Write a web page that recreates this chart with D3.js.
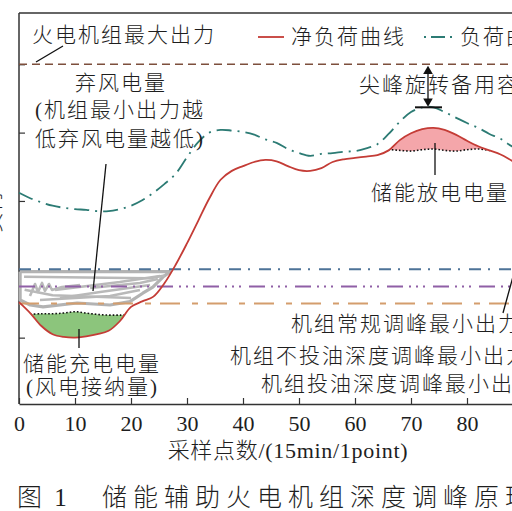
<!DOCTYPE html>
<html>
<head>
<meta charset="utf-8">
<script src="https://cdn.jsdelivr.net/npm/d3@7"></script>
<style>
body { margin: 0; background: #fff; overflow: hidden; }
svg { display: block; }
text { fill: #1e1e1e; font-family: "Liberation Serif", "Noto Sans CJK SC", serif; }
</style>
</head>
<body>
<svg></svg>
<script>
// sampling points (15 min each) and the two curves
var steps = [0,2,4,6,8,10,12,14,16,18,20,22,24,26,28,30,32,34,36,38,40,42,44,46,
             48,50,52,54,56,58,60,62,64,66,68,70,72,74,76,78,80,82,84,86,88,90,92,94];
var netLoad = [1.52,1.36,1.17,1.05,1.01,1.00,1.02,1.05,1.10,1.24,1.45,1.53,1.60,1.80,2.07,2.38,
               2.71,3.04,3.31,3.44,3.51,3.57,3.60,3.58,3.51,3.45,3.44,3.48,3.57,3.61,3.63,3.65,
               3.67,3.74,3.89,3.99,4.05,4.07,4.04,3.97,3.88,3.80,3.74,3.68,3.59,3.50,3.42,3.36];
var load = [3.12,3.04,2.98,2.93,2.90,2.88,2.87,2.85,2.85,2.88,2.93,3.01,3.12,3.25,3.40,3.64,
            3.86,4.00,4.04,4.03,4.01,3.97,3.90,3.85,3.76,3.70,3.66,3.69,3.70,3.72,3.73,3.77,
            3.83,3.98,4.16,4.30,4.37,4.37,4.30,4.22,4.14,4.07,3.98,3.91,3.80,3.72,3.65,3.60];

var xTicks = [0,10,20,30,40,50,60,70,80,90];
var yTicks = [1,2,3,4,5];

// unit output levels
var maxOutput = 5.0;
var normalMin = 2.0;
var noOilMin = 1.75;
var oilMin = 1.5;

// storage charge / discharge levels (dotted lines)
var chargeSteps = [2,4,6,8,10,12,14,16,18,20];
var chargeLevel = [1.34,1.35,1.35,1.36,1.38,1.36,1.34,1.33,1.33,1.33];
var dischargeSteps = [64,66,68,70,72,74,76,78,80,82,84,86];
var dischargeLevel = [3.74,3.75,3.74,3.73,3.75,3.76,3.74,3.73,3.75,3.76,3.74,3.73];

// curtailed wind scribble
var curtailOutline = [[0.2,1.965],[27,1.965],[25.7,1.887],[23.9,1.74],[22.1,1.65],[19.8,1.526],
                      [16.25,1.478],[10.4,1.507],[4.3,1.45],[2,1.478],[0.2,1.55],[0.2,1.965]];
var curtailScribbles = [
  [[0.9,1.89],[12,1.88],[23.4,1.87],[26,1.91]],
  [[1.96,1.61],[2.86,1.785],[3.39,1.668],[4.11,1.8],[4.64,1.683],[5.36,1.785],[5.89,1.697],[7.68,1.741],[10.9,1.77]],
  [[6.43,1.697],[18,1.814],[25.2,1.902]],
  [[7.32,1.58],[14.5,1.668],[23.4,1.77]],
  [[3.75,1.55],[16.25,1.609],[21.6,1.697]],
  [[12.7,1.726],[21.6,1.8],[24.8,1.858]],
  [[1,1.7],[6,1.62],[20,1.58]]
];

var width = 512, height = 511;
var svg = d3.select("svg").attr("width", width).attr("height", height);

var yMax = 5.75;
var x = d3.scaleLinear().domain([0, 96]).range([19, 19 + 5.6 * 96]);
var y = d3.scaleLinear().domain([0, yMax]).range([406, 13]);

var redPts = steps.map(function(t, i) { return { t: t, v: netLoad[i] }; });
var loadPts = steps.map(function(t, i) { return { t: t, v: load[i] }; });
var curve = d3.curveCatmullRom;

var defs = svg.append("defs");
defs.append("clipPath").attr("id", "aboveRed").append("path")
    .attr("d", d3.area().curve(curve).x(d => x(d.t)).y0(d => y(d.v)).y1(y(yMax))(redPts));
defs.append("clipPath").attr("id", "belowRed").append("path")
    .attr("d", d3.area().curve(curve).x(d => x(d.t)).y0(d => y(d.v)).y1(y(0))(redPts));

// frame
svg.append("line").attr("x1", x(0)).attr("x2", x(96)).attr("y1", 13).attr("y2", 13)
    .attr("stroke", "#333").attr("stroke-width", 1.5);
svg.append("line").attr("x1", x(0)).attr("x2", x(0)).attr("y1", 13).attr("y2", 404)
    .attr("stroke", "#333").attr("stroke-width", 1.5);

var xAxis = svg.append("g").attr("transform", "translate(0,404)")
    .call(d3.axisBottom(x).tickValues(xTicks).tickSizeInner(-6).tickSizeOuter(0));
xAxis.select(".domain").attr("stroke", "#333").attr("stroke-width", 1.5);
xAxis.selectAll(".tick line").attr("stroke", "#333").attr("stroke-width", 1.2);
xAxis.selectAll(".tick text").attr("y", 11).attr("dy", "0.71em")
    .style("font-size", "22px").style("font-family", "Liberation Serif").style("fill", "#1e1e1e");

var yAxis = svg.append("g").attr("transform", "translate(" + x(0) + ",0)")
    .call(d3.axisLeft(y).tickValues(yTicks).tickSize(-6).tickFormat(""));
yAxis.select(".domain").remove();
yAxis.selectAll(".tick line").attr("stroke", "#333").attr("stroke-width", 1.2);

// fills
var chargePts = chargeSteps.map(function(t, i) { return { t: t, v: chargeLevel[i] }; });
var dischargePts = dischargeSteps.map(function(t, i) { return { t: t, v: dischargeLevel[i] }; });

svg.append("path").attr("clip-path", "url(#aboveRed)")
    .attr("d", d3.area().curve(curve).x(d => x(d.t)).y0(y(0)).y1(d => y(d.v))(chargePts))
    .attr("fill", "#8cc57c");
svg.append("path").attr("clip-path", "url(#belowRed)")
    .attr("d", d3.area().curve(curve).x(d => x(d.t)).y0(d => y(d.v)).y1(y(yMax))(dischargePts))
    .attr("fill", "#f4a6aa");

var lvl = d3.line().curve(curve).x(d => x(d.t)).y(d => y(d.v));
svg.append("path").attr("clip-path", "url(#aboveRed)").attr("d", lvl(chargePts))
    .attr("fill", "none").attr("stroke", "#111").attr("stroke-width", 1.6).attr("stroke-dasharray", "1.6,2");
svg.append("path").attr("clip-path", "url(#belowRed)").attr("d", lvl(dischargePts))
    .attr("fill", "none").attr("stroke", "#111").attr("stroke-width", 1.6).attr("stroke-dasharray", "1.6,2");

// curtailed wind scribble
var scrib = d3.line().x(d => x(d[0])).y(d => y(d[1]));
svg.append("path").attr("d", scrib(curtailOutline)).attr("fill", "none")
    .attr("stroke", "#b3b3b3").attr("stroke-width", 3.2).attr("stroke-linejoin", "round");
svg.selectAll(".scribble").data(curtailScribbles).enter().append("path")
    .attr("class", "scribble").attr("d", scrib).attr("fill", "none")
    .attr("stroke", "#b9b9b9").attr("stroke-width", 2.6).attr("stroke-linejoin", "round");

// horizontal output levels
var levels = [
  { v: maxOutput, color: "#7d4f3c", dash: "8,5", w: 1.5 },
  { v: normalMin, color: "#4e7398", dash: "12,7,2,9", w: 2 },
  { v: noOilMin, color: "#8f5fa6", dash: "16,6,2,5,2,5,2,8", w: 2 },
  { v: oilMin, color: "#d49d6d", dash: "20,12,6,9", w: 2 }
];
svg.selectAll(".level").data(levels).enter().append("line")
    .attr("class", "level")
    .attr("x1", x(0)).attr("x2", x(96))
    .attr("y1", d => y(d.v)).attr("y2", d => y(d.v))
    .attr("stroke", d => d.color).attr("stroke-width", d => d.w)
    .attr("stroke-dasharray", d => d.dash);

// curves
svg.append("path").attr("d", lvl(loadPts)).attr("fill", "none")
    .attr("stroke", "#2c7b74").attr("stroke-width", 1.8).attr("stroke-dasharray", "15,6,2,6");
svg.append("path").attr("d", lvl(redPts)).attr("fill", "none")
    .attr("stroke", "#c43c36").attr("stroke-width", 1.8);

// legend
svg.append("line").attr("x1", 258).attr("x2", 284).attr("y1", 37).attr("y2", 37)
    .attr("stroke", "#c43c36").attr("stroke-width", 1.8);
svg.append("line").attr("x1", 424).attr("x2", 452).attr("y1", 37).attr("y2", 37)
    .attr("stroke", "#2c7b74").attr("stroke-width", 1.8).attr("stroke-dasharray", "2,5,14,5,2");

// peak reserve marker
var peakV = d3.max(load);
svg.append("line").attr("x1", 415).attr("x2", 442).attr("y1", y(peakV)).attr("y2", y(peakV))
    .attr("stroke", "#111").attr("stroke-width", 2);
svg.append("line").attr("x1", 428).attr("x2", 428).attr("y1", y(maxOutput) + 4).attr("y2", y(peakV) - 4)
    .attr("stroke", "#111").attr("stroke-width", 1.3);
svg.append("path").attr("d", d3.symbol(d3.symbolTriangle, 40)())
    .attr("transform", "translate(428," + (y(maxOutput) + 7) + ")").attr("fill", "#111");
svg.append("path").attr("d", d3.symbol(d3.symbolTriangle, 40)())
    .attr("transform", "translate(428," + (y(peakV) - 6) + ") rotate(180)").attr("fill", "#111");

// leader lines
var leaders = [
  [36, 62, 63, 46],
  [106, 164, 93, 291],
  [435, 143, 435, 175],
  [79, 329, 79, 348],
  [503, 313, 517, 262]
];
svg.selectAll(".leader").data(leaders).enter().append("line")
    .attr("class", "leader")
    .attr("x1", d => d[0]).attr("y1", d => d[1]).attr("x2", d => d[2]).attr("y2", d => d[3])
    .attr("stroke", "#111").attr("stroke-width", 1.3);

// labels
var labels = [
  { s: "火电机组最大出力", x: 32, y: 35 },
  { s: "净负荷曲线", x: 291, y: 37 },
  { s: "负荷曲线", x: 460, y: 37 },
  { s: "弃风电量", x: 75, y: 83 },
  { s: "(机组最小出力越", x: 35, y: 110 },
  { s: "低弃风电量越低)", x: 35, y: 139 },
  { s: "尖峰旋转备用容量", x: 359, y: 85 },
  { s: "储能放电电量", x: 371, y: 193 },
  { s: "储能充电电量", x: 23, y: 364 },
  { s: "(风电接纳量)", x: 26, y: 387 },
  { s: "机组常规调峰最小出力", x: 291, y: 324 },
  { s: "机组不投油深度调峰最小出力", x: 230, y: 356 },
  { s: "机组投油深度调峰最小出力", x: 261, y: 384 }
];
svg.selectAll(".label").data(labels).enter().append("text")
    .attr("class", "label")
    .attr("x", d => d.x).attr("y", d => d.y)
    .attr("dominant-baseline", "central")
    .attr("letter-spacing", 2)
    .style("font-size", "21px").style("font-weight", 300)
    .text(d => d.s);

// axis titles
svg.append("text").attr("x", -7).attr("y", 212)
    .attr("transform", "rotate(-90,-7,212)")
    .attr("text-anchor", "middle").attr("dominant-baseline", "central")
    .style("font-size", "21px").style("font-weight", 300)
    .text("负荷");
svg.append("text").attr("x", 288).attr("y", 450)
    .attr("text-anchor", "middle").attr("dominant-baseline", "central")
    .attr("letter-spacing", 0.7)
    .style("font-size", "22px").style("font-weight", 300)
    .text("采样点数/(15min/1point)");

// caption
svg.append("text").attr("x", 17).attr("y", 497).attr("dominant-baseline", "central")
    .attr("letter-spacing", 3).style("font-size", "25px").style("font-weight", 300)
    .text("图 1");
svg.append("text").attr("x", 102).attr("y", 497).attr("dominant-baseline", "central")
    .attr("letter-spacing", 6).style("font-size", "25px").style("font-weight", 300)
    .text("储能辅助火电机组深度调峰原理");
</script>
</body>
</html>
